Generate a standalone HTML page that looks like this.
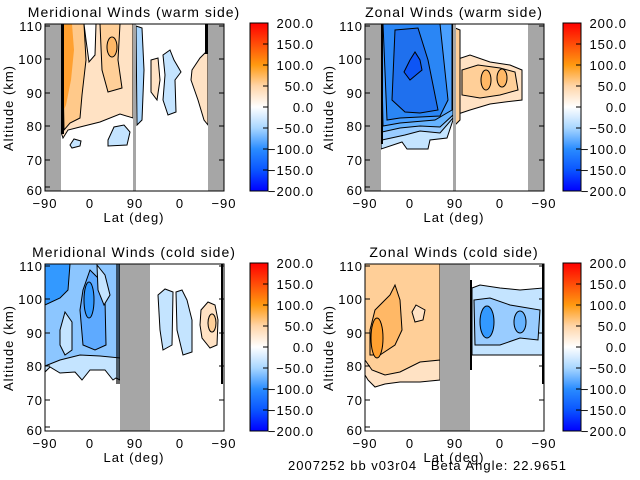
<!DOCTYPE html>
<html><head><meta charset="utf-8"><style>
html,body{margin:0;padding:0;background:#fff;}
svg{display:block;font-family:"Liberation Sans",sans-serif;}
.t{letter-spacing:1px;}
</style></head><body>
<svg width="640" height="480" viewBox="0 0 640 480" xmlns="http://www.w3.org/2000/svg">
<defs>
<linearGradient id="cb" x1="0" y1="0" x2="0" y2="1">
<stop offset="0" stop-color="#ff0000"/>
<stop offset="0.25" stop-color="#ff9a10"/>
<stop offset="0.375" stop-color="#ffd5a8"/>
<stop offset="0.5" stop-color="#ffffff"/>
<stop offset="0.625" stop-color="#a8d6ff"/>
<stop offset="0.75" stop-color="#2a8cff"/>
<stop offset="0.875" stop-color="#0a55ff"/>
<stop offset="1" stop-color="#0000ff"/>
</linearGradient>
<g id="cbar">
<rect x="0" y="0" width="18" height="168" fill="url(#cb)" stroke="#000" stroke-width="1"/>
<path d="M13 21H18M13 42H18M13 63H18M13 84H18M13 105H18M13 126H18M13 147H18" stroke="#000"/>
<g font-size="13" text-anchor="end" fill="#000" class="t">
<text x="64" y="5">200.0</text><text x="64" y="26">150.0</text><text x="64" y="47">100.0</text>
<text x="64" y="68">50.0</text><text x="64" y="89">0.0</text><text x="64" y="110">−50.0</text>
<text x="64" y="131">−100.0</text><text x="64" y="152">−150.0</text><text x="64" y="173">−200.0</text></g>
</g>
<g id="axes">
<g font-size="13" text-anchor="end" fill="#000" class="t">
<text x="-2" y="8">110</text><text x="-2" y="41">100</text><text x="-2" y="75">90</text>
<text x="-2" y="108">80</text><text x="-2" y="142">70</text><text x="-2" y="172">60</text></g>
<path d="M0 3H5M0 36H5M0 70H5M0 103H5M0 137H5M0 164H5M179 3H174M179 36H174M179 70H174M179 103H174M179 137H174" stroke="#000"/>
<g font-size="13" text-anchor="middle" fill="#000" class="t">
<text x="0" y="185">−90</text><text x="45" y="185">0</text><text x="90" y="185">90</text>
<text x="135" y="185">0</text><text x="179" y="185">−90</text>
<text x="89" y="199">Lat (deg)</text></g>
<text transform="translate(-32,85) rotate(-90)" font-size="13" text-anchor="middle" class="t">Altitude (km)</text>
</g>
</defs>

<!-- Panel 1 -->
<text x="134" y="17" font-size="14" text-anchor="middle" class="t">Meridional Winds (warm side)</text>
<g stroke="#000" stroke-width="1">
<path d="M61 24H133V118L120 114L100 122L80 127L68 130L63 138L61 132Z" fill="#ffe2c4"/>
<path d="M62 24H84L86 60L82 95L80 118L70 123L64 130Z" fill="#ffc98a"/>
<path d="M62 24H72L74 50L71 80L66 105L63 112Z" fill="#ffa030" stroke="none"/>
<path d="M100 24H120L118 60L122 88L108 92L102 70Z" fill="#ffcf98"/>
<ellipse cx="112" cy="47" rx="5" ry="10" fill="#ffb866"/>
<path d="M84 24H96L95 55L89 62L86 40Z" fill="#fff"/>
<path d="M108 140L114 127L124 125L130 132L127 145L108 146Z" fill="#c4e4ff"/>
<path d="M70 145L74 139L81 141L80 146L72 148Z" fill="#c4e4ff"/>
<path d="M136 26L142 28L144 70L142 120L137 125Z" fill="#a8d6ff"/>
<path d="M163 55L170 50L174 60L181 72L175 80L176 112L168 115L163 100L165 75Z" fill="#c4e4ff"/>
<path d="M151 60L158 58L160 80L157 100L151 92Z" fill="#ffe2c4"/>
<path d="M192 70L200 58L208 50L208 125L204 120L198 100L191 80Z" fill="#ffe2c4"/>
</g>
<rect x="45" y="24" width="16" height="167" fill="#a6a6a6"/>
<rect x="133" y="24" width="3" height="167" fill="#a6a6a6"/>
<rect x="208" y="24" width="16" height="167" fill="#a6a6a6"/>
<rect x="61" y="24" width="3" height="110" fill="#000"/>
<rect x="205" y="24" width="3" height="30" fill="#000"/>
<rect x="45" y="24" width="179" height="167" fill="none" stroke="#000"/>
<use href="#axes" transform="translate(45,23)"/>
<use href="#cbar" transform="translate(250,23)"/>

<!-- Panel 2 -->
<text x="454" y="17" font-size="14" text-anchor="middle" class="t">Zonal Winds (warm side)</text>
<g stroke="#000" stroke-width="1">
<path d="M381 24H453V120L447 138L430 140L428 149H407L402 142L381 149Z" fill="#c4e4ff"/>
<path d="M381 24H453V118L440 133L420 131L405 135L382 140Z" fill="#99ccff"/>
<path d="M381 24H453V115L440 127L420 126L400 128L382 132Z" fill="#66b3ff"/>
<path d="M381 24H452V110L435 120L400 123L383 126Z" fill="#4aa0ff"/>
<path d="M383 24H440L448 100L440 116L400 118L387 120Z" fill="#2a86f5"/>
<path d="M395 30L418 28L428 60L438 110L420 113L405 112L392 100Z" fill="#1f70ee"/>
<path d="M410 60L415 52L420 60L422 70L416 75L410 80L404 72Z" fill="#0d55f5"/>
<path d="M455 60L470 55L490 62L510 65L522 70L522 100L505 102L490 104L470 110L455 115Z" fill="#ffe2c4"/>
<path d="M462 70L478 65L500 68L515 72L518 90L500 95L480 98L462 95Z" fill="#ffcf98"/>
<ellipse cx="486" cy="80" rx="5" ry="10" fill="#ffb866"/>
<ellipse cx="502" cy="78" rx="5" ry="9" fill="#ffb866"/>
<path d="M455 28L460 30L460 120L455 125Z" fill="#ffcf98"/>
</g>
<rect x="365" y="24" width="16" height="167" fill="#a6a6a6"/>
<rect x="453" y="24" width="3" height="167" fill="#a6a6a6"/>
<rect x="528" y="24" width="16" height="167" fill="#a6a6a6"/>
<rect x="381" y="24" width="2" height="120" fill="#000"/>
<rect x="365" y="24" width="179" height="167" fill="none" stroke="#000"/>
<use href="#axes" transform="translate(365,23)"/>
<use href="#cbar" transform="translate(563,23)"/>

<!-- Panel 3 -->
<text x="134" y="257" font-size="14" text-anchor="middle" class="t">Meridional Winds (cold side)</text>
<g stroke="#000" stroke-width="1">
<path d="M45 264H120V380L116 378L113 380L105 370L90 370L82 380L75 372L60 373L50 367L45 372Z" fill="#c4e4ff"/>
<path d="M45 264H120V358L100 356L80 355L60 360L45 366Z" fill="#8cc6ff"/>
<path d="M45 264H70L68 290L60 298L45 305Z" fill="#3399ff"/>
<path d="M83 290L90 270L100 280L105 300L106 345L95 350L83 345L80 310Z" fill="#5eaaff"/>
<ellipse cx="89" cy="300" rx="5" ry="18" fill="#3399ff"/>
<path d="M60 330L65 312L72 322L72 350L65 355L60 345Z" fill="#c4e4ff"/>
<path d="M97 265L105 275L110 295L104 305L98 290Z" fill="#c4e4ff"/>
<path d="M158 295L165 289L173 292L172 345L163 350L160 330Z" fill="#c4e4ff"/>
<path d="M176 292L182 290L187 300L192 320L192 352L183 355L177 330Z" fill="#c4e4ff"/>
<path d="M201 310L208 302L215 305L218 320L217 345L210 348L202 338L200 325Z" fill="#ffe2c4"/>
<ellipse cx="212" cy="323" rx="4" ry="9" fill="#ffcf98"/>
</g>
<rect x="116" y="264" width="4" height="120" fill="#000" opacity="0.6"/>
<rect x="120" y="264" width="30" height="167" fill="#a6a6a6"/>
<rect x="221" y="264" width="2" height="120" fill="#000"/>
<rect x="45" y="264" width="179" height="167" fill="none" stroke="#000"/>
<use href="#axes" transform="translate(45,263)"/>
<use href="#cbar" transform="translate(250,263)"/>

<!-- Panel 4 -->
<text x="454" y="257" font-size="14" text-anchor="middle" class="t">Zonal Winds (cold side)</text>
<g stroke="#000" stroke-width="1">
<path d="M365 264H440V380L420 382L400 382L385 384L375 387L368 380L365 375Z" fill="#ffe2c4"/>
<path d="M365 264H440V360L420 362L400 372L385 375L372 370L365 360Z" fill="#ffcf98"/>
<path d="M370 330L375 310L390 295L395 285L400 300L402 330L395 345L380 355L370 355Z" fill="#ffb866"/>
<ellipse cx="377" cy="338" rx="6" ry="20" fill="#ffa030"/>
<path d="M412 312L416 305L425 310L423 320L415 322Z" fill="#ffe2c4"/>
<path d="M472 288L480 285L500 288L520 290L543 288V355H472Z" fill="#c4e4ff"/>
<path d="M474 300L490 298L510 305L540 310L538 340L520 338L500 345L475 345Z" fill="#99ccff"/>
<ellipse cx="487" cy="322" rx="7" ry="16" fill="#3399ff"/>
<ellipse cx="520" cy="322" rx="6" ry="11" fill="#66b3ff"/>
</g>
<rect x="440" y="264" width="30" height="167" fill="#a6a6a6"/>
<rect x="470" y="280" width="2" height="90" fill="#000"/>
<rect x="542" y="264" width="2" height="120" fill="#000"/>
<rect x="365" y="264" width="179" height="167" fill="none" stroke="#000"/>
<use href="#axes" transform="translate(365,263)"/>
<use href="#cbar" transform="translate(563,263)"/>

<text x="288" y="470" font-size="13" class="t" style="white-space:pre">2007252 bb v03r04   Beta Angle: 22.9651</text>
</svg>
</body></html>
